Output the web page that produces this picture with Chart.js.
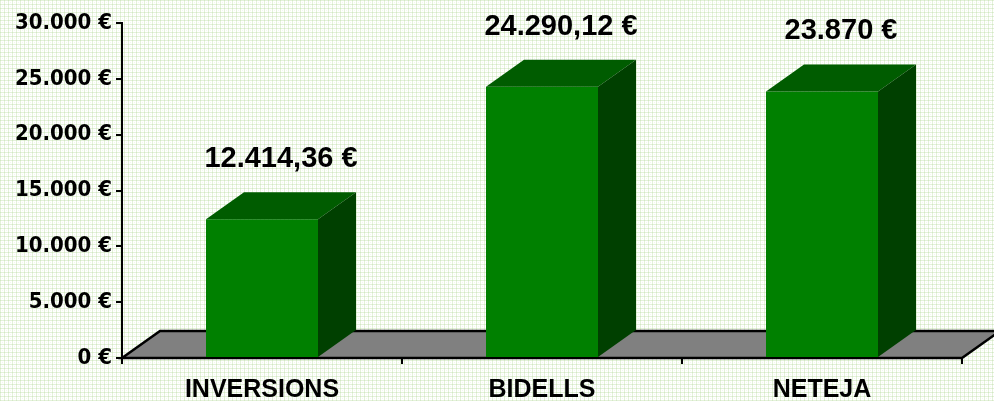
<!DOCTYPE html>
<html lang="ca">
<head>
    <meta charset="UTF-8">
    <title>Despeses</title>
    <style>
        html, body {
            margin: 0;
            padding: 0;
            background: #ffffff;
        }
        #wrap {
            width: 994px;
            height: 401px;
            position: relative;
        }
    </style>
    <script src="https://cdn.jsdelivr.net/npm/chart.js"></script>
</head>
<body>
    <div id="wrap">
        <canvas id="myCanvas" width="994" height="401"></canvas>
    </div>

    <script>
        const categories = ['INVERSIONS', 'BIDELLS', 'NETEJA'];
        const amounts = [12414.36, 24290.12, 23870];
        const yTicks = [0, 5000, 10000, 15000, 20000, 25000, 30000];

        // depth of the fake 3d
        const DX = 38;
        const DY = -27;

        function thousands(n) {
            return String(n).replace(/\B(?=(\d{3})+(?!\d))/g, '.');
        }

        function euro(v) {
            if (Number.isInteger(v)) {
                return thousands(v) + ' €';
            }
            const parts = v.toFixed(2).split('.');
            return thousands(parts[0]) + ',' + parts[1] + ' €';
        }

        // light green grid pattern for the background
        function makePattern(ctx) {
            const tile = document.createElement('canvas');
            tile.width = 4;
            tile.height = 4;
            const t = tile.getContext('2d');
            t.fillStyle = '#ffffff';
            t.fillRect(0, 0, 4, 4);
            t.fillStyle = '#e4f1da';
            t.fillRect(0, 0, 4, 1);
            t.fillRect(0, 0, 1, 4);
            t.fillStyle = '#d2e8c3';
            t.fillRect(0, 0, 1, 1);
            t.fillStyle = '#f3f9ee';
            t.fillRect(2, 2, 1, 1);
            return ctx.createPattern(tile, 'repeat');
        }

        const threeD = {
            id: 'threeD',
            beforeDraw(chart) {
                const ctx = chart.ctx;
                ctx.save();
                ctx.fillStyle = makePattern(ctx);
                ctx.fillRect(0, 0, chart.width, chart.height);
                ctx.restore();
            },
            beforeDatasetsDraw(chart) {
                const ctx = chart.ctx;
                const a = chart.chartArea;
                const y0 = chart.scales.y.getPixelForValue(0);
                ctx.save();
                ctx.beginPath();
                ctx.moveTo(a.left, y0);
                ctx.lineTo(a.right, y0);
                ctx.lineTo(a.right + DX, y0 + DY);
                ctx.lineTo(a.left + DX, y0 + DY);
                ctx.closePath();
                ctx.fillStyle = '#808080';
                ctx.fill();
                ctx.lineWidth = 2.5;
                ctx.strokeStyle = '#000000';
                ctx.lineJoin = 'miter';
                ctx.stroke();
                ctx.restore();
            },
            afterDatasetsDraw(chart) {
                const ctx = chart.ctx;
                const meta = chart.getDatasetMeta(0);
                ctx.save();
                meta.data.forEach((bar, i) => {
                    const l = bar.x - bar.width / 2;
                    const r = bar.x + bar.width / 2;
                    const top = bar.y;
                    const bottom = bar.base;

                    // top face
                    ctx.beginPath();
                    ctx.moveTo(l, top);
                    ctx.lineTo(r, top);
                    ctx.lineTo(r + DX, top + DY);
                    ctx.lineTo(l + DX, top + DY);
                    ctx.closePath();
                    ctx.fillStyle = '#005c00';
                    ctx.fill();

                    // side face
                    ctx.beginPath();
                    ctx.moveTo(r, top);
                    ctx.lineTo(r + DX, top + DY);
                    ctx.lineTo(r + DX, bottom + DY);
                    ctx.lineTo(r, bottom);
                    ctx.closePath();
                    ctx.fillStyle = '#004000';
                    ctx.fill();

                    // value label
                    ctx.fillStyle = '#000000';
                    ctx.font = 'bold 29px "Liberation Sans", Arial, sans-serif';
                    ctx.textAlign = 'center';
                    ctx.textBaseline = 'alphabetic';
                    ctx.fillText(euro(amounts[i]), bar.x + DX / 2, top + DY - 35 + 10);
                });
                ctx.restore();
            }
        };

        const ctx = document.getElementById('myCanvas').getContext('2d');

        new Chart(ctx, {
            type: 'bar',
            data: {
                labels: categories,
                datasets: [{
                    data: amounts,
                    backgroundColor: '#008000',
                    borderWidth: 0,
                    barPercentage: 0.4,
                    categoryPercentage: 1.0
                }]
            },
            options: {
                responsive: false,
                animation: false,
                layout: {
                    padding: { top: 23, right: 32, bottom: 0, left: 0 }
                },
                plugins: {
                    legend: { display: false },
                    tooltip: { enabled: false }
                },
                scales: {
                    x: {
                        afterFit(scale) {
                            scale.height = 43;
                        },
                        grid: {
                            offset: true,
                            drawOnChartArea: false,
                            drawTicks: true,
                            tickLength: 6,
                            color: '#000000',
                            lineWidth: 2
                        },
                        border: { display: false },
                        ticks: {
                            color: '#000000',
                            padding: 11,
                            maxRotation: 0,
                            font: {
                                family: '"Liberation Sans", Arial, sans-serif',
                                size: 25,
                                weight: 'bold'
                            }
                        }
                    },
                    y: {
                        min: yTicks[0],
                        max: yTicks[yTicks.length - 1],
                        afterFit(scale) {
                            scale.width = 122;
                        },
                        afterBuildTicks(scale) {
                            scale.ticks = yTicks.map(v => ({ value: v }));
                        },
                        grid: {
                            drawOnChartArea: false,
                            drawTicks: true,
                            tickLength: 6,
                            color: '#000000',
                            lineWidth: 2
                        },
                        border: { display: true, color: '#000000', width: 2 },
                        ticks: {
                            color: '#000000',
                            padding: 4,
                            callback: v => thousands(v) + ' €',
                            font: {
                                family: '"DejaVu Sans Condensed", "DejaVu Sans", sans-serif',
                                size: 22,
                                weight: 'bold'
                            }
                        }
                    }
                }
            },
            plugins: [threeD]
        });
    </script>
</body>
</html>
